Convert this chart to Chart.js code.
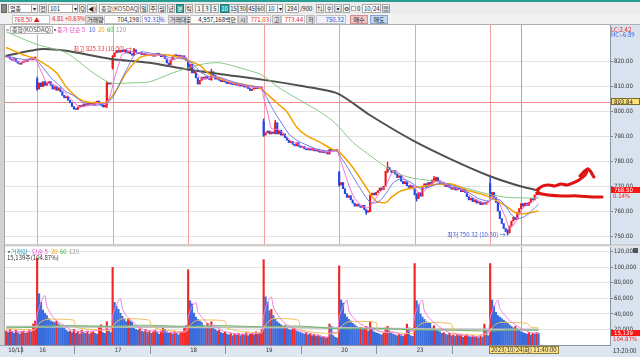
<!DOCTYPE html>
<html>
<head>
<meta charset="utf-8">
<script src="https://cdn.jsdelivr.net/npm/chart.js@4.4.1/dist/chart.umd.min.js"></script>
<style>
*{box-sizing:border-box}
html,body{margin:0;padding:0}
body{width:640px;height:357px;overflow:hidden;position:relative;background:#fff;
 font-family:"Liberation Sans Narrow","Noto Sans CJK KR","Liberation Sans",sans-serif;font-size:6px;color:#222}
.a{position:absolute;white-space:nowrap;line-height:1}
.c{position:absolute;top:4px;height:9px;line-height:7px;font-size:6px;border:1px solid #a9a9a9;background:#fff;padding:0 1px;white-space:nowrap;overflow:hidden}
.bt{background:#f6f6f6;text-align:center;padding:0}
.on{background:#2a9d93;color:#fff;border-color:#1f7f77}
.d{position:absolute;top:15px;height:9px;line-height:7px;font-size:6px;white-space:nowrap;padding:0 1px}
.lb{background:#dcdcdc;border:1px solid #bdbdbd;color:#333;text-align:center}
.vb{background:#fff;border:1px solid #c4c4c4;text-align:right}
.red{color:#e41b1b}.blu{color:#2747d8}
canvas{position:absolute;left:0;top:0}
</style>
</head>
<body>
<!-- chrome / backgrounds -->
<div class="a" style="left:0;top:0;width:640px;height:2px;background:#2a9d93"></div>
<div class="a" style="left:0;top:2px;width:640px;height:12px;background:#ebebeb"></div>
<div class="a" style="left:0;top:14px;width:640px;height:11px;background:#f1f1f1;border-bottom:1px solid #b0b0b0"></div>
<div class="a" style="left:0;top:25px;width:5px;height:320px;background:#d2d2d2;border-right:1px solid #a8a8a8"></div>
<div class="a" style="left:610px;top:25px;width:30px;height:332px;background:#d9e3ef"></div>
<div class="a" style="left:0;top:345px;width:610px;height:12px;background:#dde6f1;border-top:1px solid #9aa6b6"></div>
<div class="a" style="left:5px;top:244px;width:635px;height:3px;background:#cfcfcf;border-bottom:1px solid #e8e8e8"></div>

<!-- toolbar row 1 -->
<div class="c" style="left:1px;width:6px;background:#888;border-color:#666"></div>
<div class="c" style="left:8px;width:24px">업종</div>
<div class="c bt" style="left:31px;width:7px">▾</div>
<div class="c bt" style="left:39px;width:8px">전</div>
<div class="c" style="left:48px;width:30px">101</div>
<div class="c bt" style="left:72px;width:6px">▾</div>
<div class="c bt" style="left:79px;width:7px">Q</div>
<div class="c bt" style="left:87px;width:10px">◀)</div>
<div class="c" style="left:99px;width:40px;color:#444">종합(KOSDAQ)</div>
<div class="c bt" style="left:140px;width:8px">일</div>
<div class="c bt" style="left:149px;width:8px">주</div>
<div class="c bt" style="left:158px;width:8px">월</div>
<div class="c bt" style="left:167px;width:8px">년</div>
<div class="c bt on" style="left:176px;width:8px">분</div>
<div class="c bt" style="left:185px;width:8px">틱</div>
<div class="c bt" style="left:195px;width:8px">1</div>
<div class="c bt" style="left:203px;width:8px">3</div>
<div class="c bt" style="left:211px;width:8px">5</div>
<div class="c bt on" style="left:220px;width:9px">10</div>
<div class="c bt" style="left:229px;width:9px">15</div>
<div class="c bt" style="left:238px;width:9px">30</div>
<div class="c bt" style="left:247px;width:9px">45</div>
<div class="c bt" style="left:256px;width:9px">60</div>
<div class="c" style="left:266px;width:17px">10</div>
<div class="c bt" style="left:277px;width:6px">▾</div>
<div class="c" style="left:285px;width:14px;text-align:right">284</div>
<div class="a" style="left:300px;top:6px">/900</div>
<div class="c bt" style="left:316px;width:8px">⇅</div>
<div class="c bt" style="left:325px;width:8px">⚲</div>
<div class="c bt" style="left:334px;width:8px">▣</div>
<div class="c bt" style="left:343px;width:7px">⚙</div>
<div class="c" style="left:351px;top:6px;width:5px;height:5px"></div>
<div class="a" style="left:357px;top:6px">0</div>
<div class="c" style="left:362px;width:19px">10/24</div>
<div class="c bt" style="left:382px;width:8px">▦</div>

<!-- toolbar row 2 -->
<div class="d vb red" style="left:12px;width:38px;text-align:left">768.50 ▲</div>
<div class="d red" style="left:51px">4.81</div>
<div class="d red" style="left:64px">+0.63%</div>
<div class="d lb" style="left:85px;width:18px">거래량</div>
<div class="d vb" style="left:104px;width:37px">704,198</div>
<div class="d vb blu" style="left:142px;width:18px">92.31%</div>
<div class="d lb" style="left:168px;width:21px">거래대금</div>
<div class="d vb" style="left:190px;width:48px">4,957,168백만</div>
<div class="d lb" style="left:238px;width:9px">시</div>
<div class="d vb red" style="left:247px;width:24px">771.03</div>
<div class="d lb" style="left:272px;width:9px">고</div>
<div class="d vb red" style="left:281px;width:24px">773.44</div>
<div class="d lb" style="left:306px;width:9px">저</div>
<div class="d vb blu" style="left:316px;width:30px;background:#eef3fb">750.32</div>
<div class="d" style="left:350px;width:18px;background:#f5c2c2;border:1px solid #cf8d8d;text-align:center">매수</div>
<div class="d" style="left:370px;width:18px;background:#c3d7f1;border:1px solid #86a5cf;text-align:center">매도</div>

<!-- charts -->
<div style="position:absolute;left:5px;top:25px;width:635px;height:220px"><canvas id="pc" width="635" height="220"></canvas></div>
<div style="position:absolute;left:5px;top:247px;width:635px;height:110px"><canvas id="vc" width="635" height="110"></canvas></div>

<!-- legends and labels -->
<div class="a" style="left:6px;top:27px;color:#777">=</div>
<div class="a" style="left:10px;top:26px;height:8px;padding:0 1px;border:1px solid #b9b9b9;background:#f7f7f7;color:#555;line-height:6px">종합(KOSDAQ)</div>
<div class="a" style="left:52px;top:27px;color:#555">▪</div>
<div class="a" style="left:57px;top:27px;color:#e848c8">종가 단순 5</div>
<div class="a" style="left:89px;top:27px;color:#4a5ee0">10</div>
<div class="a" style="left:98px;top:27px;color:#f0a000">20</div>
<div class="a" style="left:107px;top:27px;color:#46b046">60</div>
<div class="a" style="left:116px;top:27px;color:#9a9a9a">120</div>
<div class="a" style="left:611px;top:27px;color:#e82020">LC:2.42</div>
<div class="a" style="left:611px;top:32px;color:#3a5ee0">HC:-6.89</div>

<div class="a" style="left:6px;top:249px;color:#555">▪</div>
<div class="a" style="left:11px;top:249px;color:#2aa0b4">거래량</div>
<div class="a" style="left:32px;top:249px;color:#e848c8">단순 5</div>
<div class="a" style="left:51px;top:249px;color:#f0a000">20</div>
<div class="a" style="left:60px;top:249px;color:#46b046">60</div>
<div class="a" style="left:69px;top:249px;color:#9a9a9a">120</div>
<div class="a" style="left:7px;top:255px;color:#333">15,139주(104.87%)</div>
<div class="a" style="left:633px;top:248px;width:5px;height:5px;background:#555"></div>
<div class="a" style="left:613px;top:348px;color:#333">13:20:00</div>
<div class="a" style="left:489px;top:346px;height:8px;padding:0 1px;line-height:6px;background:#ffe48a;border:1px solid #8e7d3a;color:#333">2023/10/24(화) 11:40:00</div>

<script>
// ---------- data ----------
const dayLabels = ['10/13','16','17','18','19','20','23','24'];
const barsPerDay = [16,39,39,39,39,39,39,26];
const priceTicks = [750,760,770,780,790,800,810,820];
const volumeTicks = [20000,40000,60000,80000,100000,120000];

const open = [
822.0,822.3,821.8,821.0,820.6,821.2,820.0,819.4,819.0,819.6,820.3,820.0,820.8,821.2,820.7,821.5,
813.0,809.0,811.5,810.0,812.0,810.5,811.5,812.0,810.5,809.0,810.0,808.5,809.5,808.0,806.5,805.5,806.0,804.5,803.5,802.0,801.0,800.8,801.8,802.5,802.0,803.0,802.5,803.3,802.8,803.5,802.6,803.8,804.2,803.0,802.5,801.8,802.5,811.5,811.0,
817.5,822.0,823.5,824.5,823.8,824.6,824.0,824.8,823.5,824.3,823.2,822.6,824.8,823.6,823.2,823.7,822.8,823.3,822.5,823.0,822.4,822.9,822.2,822.8,823.4,822.6,822.0,822.5,821.2,819.5,818.8,820.8,822.0,822.8,822.2,822.6,821.8,822.4,821.5,
820.0,817.0,819.0,815.5,816.5,813.5,811.0,812.5,813.8,813.0,814.0,813.2,812.8,816.0,814.5,813.0,813.6,812.5,812.0,812.6,811.8,811.2,811.8,811.0,810.8,811.4,810.5,810.9,810.2,810.8,809.8,810.3,809.2,808.4,809.0,809.6,809.2,809.8,809.4,
796.0,790.5,791.5,792.2,791.0,791.8,791.2,795.5,791.0,792.5,790.5,791.0,789.5,788.5,787.5,788.0,786.8,786.2,787.5,786.0,785.6,786.0,785.0,784.6,785.3,784.5,785.2,784.2,784.8,784.0,783.6,784.2,783.4,783.8,782.9,784.8,784.2,784.6,784.3,
775.5,770.5,771.5,769.0,767.0,765.5,766.2,764.5,763.2,762.0,762.8,762.0,761.5,762.3,760.5,759.5,759.8,766.5,767.2,766.5,767.5,768.2,769.3,768.6,770.0,776.0,777.5,776.5,775.5,776.3,774.8,773.5,774.2,772.0,771.0,771.8,770.2,769.5,770.3,
769.0,766.5,765.0,767.5,766.0,770.0,771.0,769.5,771.5,770.5,772.5,771.8,773.5,772.2,770.8,771.6,770.5,769.8,770.6,769.5,768.8,769.6,768.5,769.3,768.6,767.8,768.9,767.5,765.8,764.5,765.2,763.8,764.5,763.2,763.8,762.6,763.4,762.8,763.6,
771.0,766.0,767.5,765.5,763.5,760.0,757.0,755.0,753.0,751.8,751.2,754.0,756.0,757.5,756.6,759.5,761.0,763.0,762.0,763.2,762.3,763.5,765.0,764.5,766.5,767.6
];
const close = [
822.3,821.8,821.0,820.6,821.2,820.0,819.4,819.0,819.6,820.3,820.0,820.8,821.2,820.7,821.5,821.9,
809.0,811.5,810.0,812.0,810.5,811.5,812.0,810.5,809.0,810.0,808.5,809.5,808.0,806.5,805.5,806.0,804.5,803.5,802.0,801.0,800.8,801.8,802.5,802.0,803.0,802.5,803.3,802.8,803.5,802.6,803.8,804.2,803.0,802.5,801.8,802.5,811.5,811.0,811.5,
822.0,823.5,824.5,823.8,824.6,824.0,824.8,823.5,824.3,823.2,822.6,824.8,823.6,823.2,823.7,822.8,823.3,822.5,823.0,822.4,822.9,822.2,822.8,823.4,822.6,822.0,822.5,821.2,819.5,818.8,820.8,822.0,822.8,822.2,822.6,821.8,822.4,821.5,820.5,
817.0,819.0,815.5,816.5,813.5,811.0,812.5,813.8,813.0,814.0,813.2,812.8,816.0,814.5,813.0,813.6,812.5,812.0,812.6,811.8,811.2,811.8,811.0,810.8,811.4,810.5,810.9,810.2,810.8,809.8,810.3,809.2,808.4,809.0,809.6,809.2,809.8,809.4,809.5,
790.5,791.5,792.2,791.0,791.8,791.2,795.5,791.0,792.5,790.5,791.0,789.5,788.5,787.5,788.0,786.8,786.2,787.5,786.0,785.6,786.0,785.0,784.6,785.3,784.5,785.2,784.2,784.8,784.0,783.6,784.2,783.4,783.8,782.9,784.8,784.2,784.6,784.3,784.5,
770.5,771.5,769.0,767.0,765.5,766.2,764.5,763.2,762.0,762.8,762.0,761.5,762.3,760.5,759.5,760.2,766.5,767.2,766.5,767.5,768.2,769.3,768.6,770.0,776.0,777.5,776.5,775.5,776.3,774.8,773.5,774.2,772.0,771.0,771.8,770.2,769.5,770.3,769.2,
766.5,765.0,767.5,766.0,770.0,771.0,769.5,771.5,770.5,772.5,773.2,773.5,772.2,770.8,771.6,770.5,769.8,770.6,769.5,768.8,769.6,768.5,769.3,768.6,767.8,768.9,767.5,765.8,764.5,765.2,763.8,764.5,763.2,763.8,762.6,763.4,762.8,763.6,764.0,
766.0,767.5,765.5,763.5,760.0,757.0,755.0,753.0,751.8,751.2,754.0,756.0,757.5,756.6,759.5,761.0,763.0,762.0,763.2,762.3,763.5,765.0,764.5,766.5,767.6,768.5
];
const wickIndex = [16,52,55,66,94,106,133,139,172,186,197,212,221,250,259];
const wickLow   = [808.5,801.5,817.0,822.5,816.5,812.5,790.0,791.0,770.0,758.7,775.5,764.0,771.5,765.0,750.32];
const wickHigh  = [813.8,812.0,822.5,825.33,820.5,817.0,797.0,796.5,776.0,760.5,779.7,767.0,774.0,773.44,752.5];

const volume = [
18000,16000,20000,17000,15000,19000,16000,14000,17000,18000,15000,16000,19000,17000,27000,31000,
112000,66000,55000,45000,41000,38000,34000,31000,30000,29000,31000,27000,25000,24000,22000,19000,17000,18000,16000,20000,15000,17000,14000,19000,16000,15000,18000,14000,16000,17000,15000,14000,24000,26000,16000,15000,30000,18000,16000,
100000,55000,50000,46000,41000,37000,33000,30000,33000,31000,29000,22000,20000,19000,21000,18000,17000,20000,16000,18000,15000,17000,19000,16000,14000,18000,22000,20000,17000,15000,16000,14000,18000,15000,13000,16000,17000,22000,25000,
97000,57000,53000,41000,36000,33000,31000,29000,25000,22000,28000,24000,30000,22000,20000,18000,19000,16000,15000,17000,14000,13000,15000,12000,14000,13000,15000,12000,14000,13000,16000,12000,14000,15000,13000,17000,14000,16000,20000,
110000,62000,55000,44000,46000,38000,33000,30000,28000,26000,24000,25000,22000,20000,19000,21000,22000,18000,17000,16000,15000,14000,16000,13000,15000,12000,14000,11000,13000,12000,10000,11000,9000,10000,27000,24000,12000,10000,9000,
102000,58000,54000,40000,36000,33000,31000,28000,26000,24000,22000,23000,20000,21000,24000,18000,30000,22000,17000,16000,15000,14000,13000,15000,22000,24000,18000,16000,14000,13000,12000,14000,12000,11000,13000,27000,22000,12000,11000,
105000,57000,52000,40000,36000,33000,30000,29000,28000,22000,25000,20000,18000,17000,15000,16000,14000,13000,15000,12000,13000,11000,14000,12000,13000,10000,12000,14000,11000,10000,12000,10000,11000,9000,12000,10000,27000,20000,12000,
105000,58000,50000,42000,38000,36000,34000,32000,30000,28000,26000,24000,22000,24000,21000,19000,17000,16000,15000,14000,16000,13000,15000,14000,16000,15139
];

// moving averages as [bar, value]
const ma5 = [[0,822.0],[8,819.8],[15,821.3],[17,818.0],[19,814.5],[21,811.5],[25,810.8],[30,808.0],[34,804.5],[38,801.8],[42,802.3],[46,803.0],[50,803.3],[52,803.0],[53,805.0],[54,807.0],[56,813.5],[58,818.5],[60,823.0],[64,824.2],[68,823.6],[72,823.2],[76,822.6],[80,822.6],[84,820.6],[87,820.8],[90,822.2],[93,821.4],[95,819.0],[97,817.5],[100,813.5],[104,813.2],[107,814.0],[110,813.8],[114,812.2],[118,811.2],[122,810.7],[126,809.8],[132,809.5],[133,805.5],[135,799.8],[137,793.2],[140,792.8],[143,791.5],[147,788.2],[151,786.8],[155,785.4],[160,784.7],[165,783.7],[168,783.9],[171,784.4],[172,782.0],[174,777.5],[176,772.6],[178,768.3],[180,765.2],[183,762.5],[186,761.2],[188,762.0],[190,764.0],[193,767.6],[196,770.0],[198,773.4],[200,776.3],[203,775.2],[206,772.8],[209,770.5],[211,769.5],[213,767.3],[216,768.0],[219,770.7],[222,772.0],[225,771.8],[229,770.0],[233,769.0],[236,768.4],[239,766.6],[243,764.4],[247,763.2],[249,763.5],[250,765.0],[252,765.8],[254,764.6],[256,760.8],[258,757.2],[260,753.0],[262,754.3],[264,756.8],[266,760.0],[268,762.3],[270,762.9],[272,763.7],[275,766.3]];
const ma10 = [[0,822.3],[8,821.0],[15,820.8],[17,819.5],[20,816.6],[24,812.8],[27,810.8],[31,808.0],[35,806.3],[40,803.5],[45,802.5],[50,802.8],[53,804.0],[55,805.5],[57,808.5],[60,813.5],[63,818.0],[66,822.5],[70,824.0],[75,823.4],[80,822.8],[85,821.5],[90,821.3],[93,821.0],[95,820.0],[98,817.8],[101,815.5],[105,814.0],[110,813.8],[115,812.5],[120,811.3],[125,810.4],[132,809.6],[134,806.5],[137,802.0],[140,798.0],[143,794.5],[146,791.0],[150,788.5],[155,786.6],[160,785.0],[165,784.3],[171,784.0],[173,781.5],[176,778.0],[179,774.0],[182,770.2],[185,766.5],[188,763.5],[191,763.3],[194,764.8],[197,768.0],[200,771.5],[204,773.0],[208,772.0],[211,770.5],[214,769.0],[218,769.5],[222,770.8],[226,771.2],[230,770.3],[235,769.0],[240,767.0],[244,765.0],[249,764.0],[252,765.0],[255,764.5],[258,762.0],[261,758.5],[264,757.0],[267,757.5],[270,759.0],[273,761.3],[275,762.8]];
const ma20 = [[0,825.7],[8,823.0],[16,820.8],[26,815.5],[31,809.9],[37,805.4],[42,803.8],[48,803.4],[52,803.8],[57,808.7],[62,815.5],[69,821.6],[76,822.8],[86,822.4],[100,818.5],[105,815.0],[115,812.0],[124,810.7],[131,809.4],[140,803.3],[145,799.9],[150,793.8],[155,790.4],[162,787.7],[168,785.0],[172,783.7],[179,777.6],[186,769.5],[191,764.0],[196,763.4],[199,765.5],[204,768.2],[217,770.2],[230,770.9],[239,768.2],[248,766.2],[258,762.1],[263,759.4],[268,759.0],[275,760.1]];
const ma60 = [[0,832.0],[16,826.9],[31,823.6],[45,815.5],[54,811.5],[65,811.5],[74,811.9],[86,815.5],[100,818.8],[110,819.6],[124,816.8],[132,814.7],[141,809.5],[153,804.0],[163,799.4],[170,795.3],[179,787.7],[189,781.7],[199,776.3],[208,773.6],[225,771.5],[239,768.9],[249,766.8],[259,765.5],[275,765.2]];
const ma120 = [[0,822.4],[16,824.9],[19,825.1],[31,824.4],[54,821.1],[74,819.6],[93,817.0],[111,815.0],[133,812.7],[152,810.3],[171,807.3],[188,798.5],[210,788.4],[229,781.1],[249,774.3],[263,770.6],[275,768.2]];

const vma5 = [[0,18000],[10,17000],[15,20000],[16,40000],[18,55000],[20,64000],[21,50000],[23,40000],[26,31000],[30,25000],[34,19000],[40,17000],[48,19000],[52,21000],[54,20000],[55,38000],[57,52000],[59,60000],[60,47000],[62,38000],[65,31000],[68,24000],[72,19000],[80,17000],[88,16000],[93,19000],[94,36000],[96,50000],[98,55000],[99,43000],[101,36000],[104,28000],[108,24000],[112,18000],[120,14000],[128,15000],[132,16000],[133,38000],[135,55000],[137,62000],[138,49000],[140,40000],[143,30000],[147,23000],[152,18000],[160,13000],[166,10000],[168,17000],[171,16000],[172,36000],[174,50000],[176,58000],[177,44000],[179,36000],[182,29000],[186,23000],[190,20000],[196,16000],[200,17000],[205,13000],[208,18000],[210,18000],[211,38000],[213,51000],[215,58000],[216,44000],[218,36000],[221,29000],[225,21000],[230,15000],[238,12000],[244,11000],[247,15000],[249,16000],[250,35000],[252,50000],[254,58000],[255,47000],[257,40000],[260,32000],[263,26000],[267,20000],[271,16000],[275,15000]];
const vma20 = [[0,21000],[15,20000],[16,25000],[18,30000],[21,33000],[35,32000],[36,23000],[40,21000],[54,19000],[55,24000],[57,30000],[60,34000],[74,32000],[75,24000],[80,20000],[93,17000],[94,22000],[96,28000],[99,32000],[113,31000],[114,22000],[120,18000],[132,16000],[133,22000],[135,29000],[138,34000],[151,32000],[152,20000],[160,16000],[171,15000],[172,20000],[174,26000],[177,30000],[191,29000],[192,18000],[200,16000],[210,15000],[211,20000],[213,25000],[216,29000],[230,27000],[231,16000],[240,13000],[249,14000],[250,19000],[252,25000],[255,29000],[269,28000],[271,23000],[275,22000]];
const vma60 = [[0,22000],[16,23000],[30,25000],[55,24000],[70,25500],[94,24000],[110,25000],[133,23500],[150,24500],[172,21000],[190,21500],[211,19500],[230,19000],[250,18000],[262,19500],[275,19000]];
const vma120 = [[0,23500],[50,23500],[100,23000],[150,22500],[200,21000],[250,20000],[275,20000]];

// crosshair, notes and the hand-drawn pen annotation
const crossIndex = 266, crossPrice = 803.84;
const lastRate = '0.14%', lastVolRate = '104.87%';
const highNote = {bar: 66, price: 825.33, text: '최고 825.33 (10:50) →'};
const lowNote  = {bar: 259, price: 750.32, text: '최저 750.32 (10:30) →'};
const penA = [[274.2,768.5],[277.3,770.1],[280.4,770.5],[283.5,770.1],[286.6,770.9],[289.7,770.5],[292.8,771.3],[295.9,772.5],[299.0,774.5],[300.5,776.9]];
const penHead = [[296.4,774.1],[300.5,776.9],[303.6,773.7]];
const penB = [[274.2,767.3],[279.9,766.5],[287.1,766.1],[295.4,766.1],[302.6,765.7],[307.8,765.7]];

// ---------- drawing ----------
const NARROW = '"Liberation Sans Narrow","DejaVu Sans Condensed","Liberation Sans",sans-serif';
const KFONT = '"Noto Sans CJK KR","Liberation Sans",sans-serif';
const X_MIN = -0.6, X_MAX = 311.9;
const dayStarts = []; { let acc = 0; barsPerDay.forEach(n => { dayStarts.push(acc); acc += n; }); }
const UP = '#f01818', DOWN = '#2448e8';
const pts = a => a.map(p => ({x: p[0], y: p[1]}));
const candleData = open.map((o, i) => ({x: i, y: [o, close[i]]}));
const candleColors = open.map((o, i) => close[i] >= o ? UP : DOWN);
const wickData = wickIndex.map((i, k) => ({x: i, y: [wickLow[k], wickHigh[k]]}));
const wickColors = wickIndex.map(i => close[i] >= open[i] ? UP : DOWN);
const volData = volume.map((v, i) => ({x: i, y: v}));
const volColors = volume.map((v, i) => (i > 0 && v < volume[i - 1]) ? '#3a6cdc' : '#f02828');

const lineDs = (data, color, w, order, tension) => ({type: 'line', data: pts(data), borderColor: color, borderWidth: w, pointRadius: 0, tension: tension ?? 0.25, order, borderJoinStyle: 'round'});
const penDs = data => ({type: 'line', data: pts(data), borderColor: '#e01212', borderWidth: 3, pointRadius: 0, tension: 0.35, order: 0, borderCapStyle: 'round', borderJoinStyle: 'round'});

function vline(ctx, x, top, bottom) { ctx.beginPath(); ctx.moveTo(x, top); ctx.lineTo(x, bottom); ctx.stroke(); }
function hline(ctx, y, left, right) { ctx.beginPath(); ctx.moveTo(left, y); ctx.lineTo(right, y); ctx.stroke(); }
function boxLabel(ctx, x, y, w, h, bg, border, text, color) {
  ctx.fillStyle = bg; ctx.fillRect(x, Math.round(y - h / 2), w, h);
  if (border) { ctx.strokeStyle = border; ctx.lineWidth = 1; ctx.strokeRect(x + 0.5, Math.round(y - h / 2) + 0.5, w - 1, h - 1); }
  ctx.fillStyle = color; ctx.textAlign = 'left'; ctx.textBaseline = 'middle';
  ctx.fillText(text, x + 3, Math.round(y) + 0.5);
}

const yAxisCommon = (ticks, fmt) => ({
  position: 'right',
  afterBuildTicks: s => { s.ticks = ticks.map(v => ({value: v})); },
  afterFit: s => { s.width = 30; s.paddingTop = 0; s.paddingBottom = 0; },
  grid: {color: '#e3e3e3', tickLength: 3, tickColor: '#7d8898'},
  border: {color: '#8c97a6'},
  ticks: {padding: 1, color: '#333', font: {size: 6, family: NARROW}, callback: fmt}
});

const pricePlugin = {
  id: 'pricePlugin',
  beforeDatasetsDraw(chart) {
    const {ctx, chartArea: a, scales: {x, y}} = chart;
    ctx.save();
    ctx.lineWidth = 1; ctx.strokeStyle = '#f2a2a2';
    dayStarts.slice(1).forEach(s => vline(ctx, Math.round(x.getPixelForValue(s)) + 0.5, a.top, a.bottom));
    ctx.strokeStyle = '#f28a8a';
    vline(ctx, Math.round(x.getPixelForValue(crossIndex)) + 0.5, a.top, a.bottom);
    hline(ctx, Math.round(y.getPixelForValue(crossPrice)) + 0.5, a.left, a.right);
    ctx.restore();
  },
  afterDraw(chart) {
    const {ctx, chartArea: a, scales: {x, y}} = chart;
    ctx.save();
    ctx.font = '6px ' + KFONT; ctx.textAlign = 'right'; ctx.textBaseline = 'middle';
    ctx.fillStyle = '#e8342c';
    ctx.fillText(highNote.text, x.getPixelForValue(highNote.bar) - 2, y.getPixelForValue(highNote.price));
    ctx.fillStyle = '#3550d4';
    ctx.fillText(lowNote.text, x.getPixelForValue(lowNote.bar) - 2, y.getPixelForValue(lowNote.price));
    ctx.font = '6px ' + NARROW;
    boxLabel(ctx, a.right + 1, y.getPixelForValue(crossPrice), 29, 7, '#ffe27a', '#7a6a2a', crossPrice.toFixed(2), '#222');
    const last = close[close.length - 1];
    const ly = y.getPixelForValue(last);
    boxLabel(ctx, a.right + 1, ly, 29, 6, '#ff1414', null, last.toFixed(2), '#fff');
    ctx.fillStyle = '#ff2020'; ctx.textAlign = 'left'; ctx.textBaseline = 'middle';
    ctx.fillText(lastRate, a.right + 3, ly + 6);
    ctx.restore();
  }
};

const volPlugin = {
  id: 'volPlugin',
  beforeDatasetsDraw(chart) {
    const {ctx, chartArea: a, scales: {x}} = chart;
    ctx.save(); ctx.lineWidth = 1; ctx.strokeStyle = '#f28a8a';
    vline(ctx, Math.round(x.getPixelForValue(crossIndex)) + 0.5, a.top, a.bottom);
    ctx.restore();
  },
  afterDraw(chart) {
    const {ctx, chartArea: a, scales: {y}} = chart;
    ctx.save(); ctx.font = '6px ' + NARROW;
    const last = volume[volume.length - 1];
    const ly = y.getPixelForValue(last);
    boxLabel(ctx, a.right + 1, ly, 29, 6, '#ff1414', null, last.toLocaleString('en-US'), '#fff');
    ctx.fillStyle = '#ff2020'; ctx.textAlign = 'left'; ctx.textBaseline = 'middle';
    ctx.fillText(lastVolRate, a.right + 3, ly + 6);
    ctx.restore();
  }
};

const baseOpts = {
  responsive: false, animation: false, events: [],
  layout: {padding: 0},
  plugins: {legend: {display: false}, tooltip: {enabled: false}}
};

new Chart(document.getElementById('pc'), {
  type: 'bar',
  data: {datasets: [
    penDs(penA), penDs(penHead), penDs(penB),
    lineDs(ma5, '#f06ad6', 1, 1, 0.15),
    lineDs(ma10, '#6a7ae6', 1, 2, 0.15),
    lineDs(ma20, '#f4a200', 1.5, 3),
    lineDs(ma60, '#86c886', 1, 4),
    lineDs(ma120, '#505050', 2, 5),
    {type: 'bar', data: candleData, backgroundColor: candleColors, barThickness: 1.5, minBarLength: 1, grouped: false, order: 6},
    {type: 'bar', data: wickData, backgroundColor: wickColors, barThickness: 0.8, grouped: false, order: 7}
  ]},
  options: Object.assign({}, baseOpts, {
    scales: {
      x: {type: 'linear', min: X_MIN, max: X_MAX, display: false, offset: false},
      y: Object.assign(yAxisCommon(priceTicks, v => Number(v).toFixed(2)), {min: 746.39, max: 834.74})
    }
  }),
  plugins: [pricePlugin]
});

new Chart(document.getElementById('vc'), {
  type: 'bar',
  data: {datasets: [
    lineDs(vma5, '#f07ee0', 1, 1, 0.2),
    lineDs(vma20, '#f4be5a', 1, 2, 0.2),
    lineDs(vma60, '#68ba68', 1, 3),
    lineDs(vma120, '#bdbdbd', 2, 4),
    {type: 'bar', data: volData, backgroundColor: volColors, barThickness: 1.5, grouped: false, order: 6}
  ]},
  options: Object.assign({}, baseOpts, {
    scales: {
      x: {type: 'linear', min: X_MIN, max: X_MAX, position: 'bottom', offset: false,
        afterBuildTicks: s => { s.ticks = dayStarts.map(v => ({value: v})); },
        afterFit: s => { s.height = 12; s.paddingLeft = 0; s.paddingRight = 0; },
        grid: {drawOnChartArea: false, tickLength: 9, tickColor: '#8a94a4'},
        border: {color: '#8a94a4'},
        ticks: {autoSkip: false, maxRotation: 0, align: 'start', padding: -7, labelOffset: 2, color: '#333',
          font: {size: 6, family: NARROW}, callback: (v, k) => dayLabels[k]}
      },
      y: Object.assign(yAxisCommon(volumeTicks, v => Number(v).toLocaleString('en-US')), {min: 0, max: 126300})
    }
  }),
  plugins: [volPlugin]
});
</script>
</body>
</html>
